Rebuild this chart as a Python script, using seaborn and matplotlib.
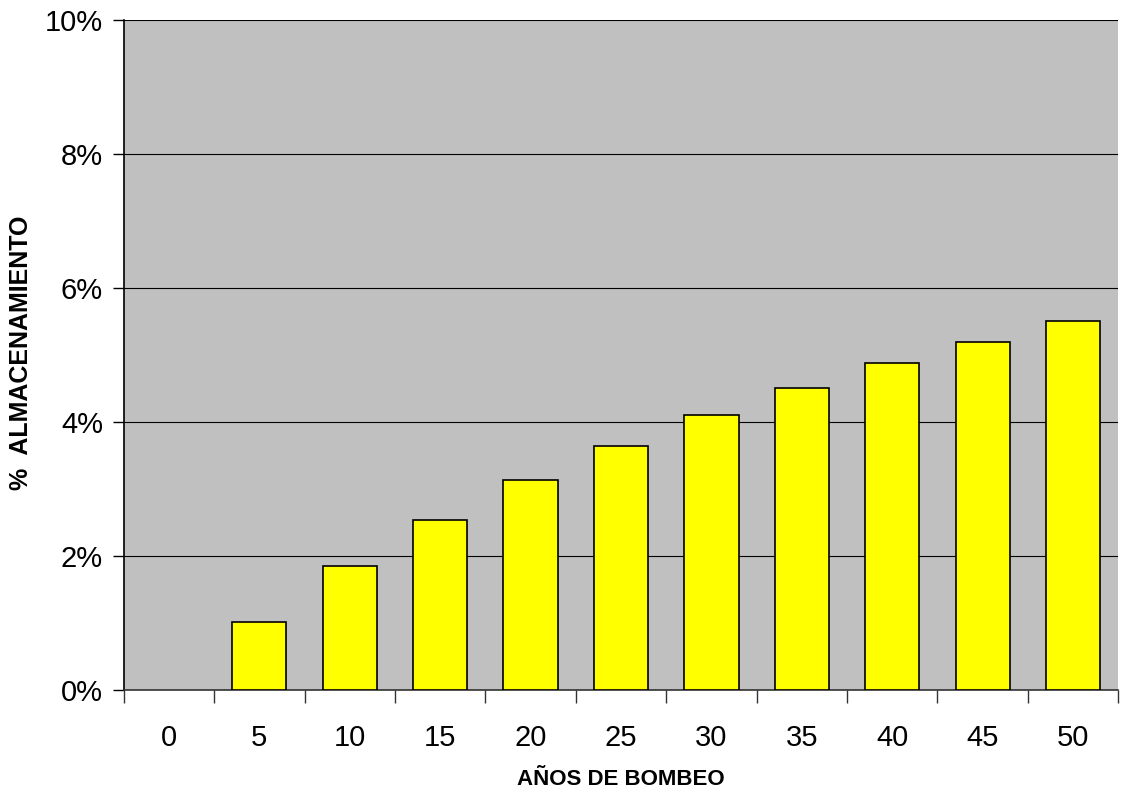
import matplotlib
matplotlib.use("Agg")
import matplotlib.pyplot as plt
import seaborn as sns
import pandas as pd
import numpy as np
from matplotlib.ticker import FixedLocator, FuncFormatter

# Years of pumping and the resulting storage percentage
years = ["0", "5", "10", "15", "20", "25", "30", "35", "40", "45", "50"]
storage_pct = [0.0, 1.01, 1.84, 2.54, 3.13, 3.64, 4.10, 4.51, 4.87, 5.19, 5.51]

df = pd.DataFrame({"years": years, "pct": storage_pct})

sns.set_theme(style="white")
plt.rcParams["font.family"] = ["Liberation Sans", "DejaVu Sans"]

fig = plt.figure(figsize=(11.25, 7.91), dpi=100)
ax = fig.add_axes([0.110, 0.128, 0.884, 0.847])
ax.set_facecolor("#C0C0C0")

sns.barplot(data=df, x="years", y="pct", order=years, color="#FFFF00",
            edgecolor="black", linewidth=1.2, width=0.6, saturation=1,
            ax=ax, zorder=3)

# zero-height bars leave no outline
for patch in ax.patches:
    if patch.get_height() == 0:
        patch.set_linewidth(0)

ax.set_ylim(0, 10)
ax.set_xlim(-0.5, len(years) - 0.5)
ax.set_yticks(np.arange(0, 11, 2))
ax.yaxis.set_major_formatter(FuncFormatter(lambda v, p: f"{v:.0f}%"))
ax.yaxis.grid(True, color="black", linewidth=0.8, zorder=1)
ax.set_axisbelow(True)

# tick marks between categories, labels centred under each bar
ax.xaxis.set_minor_locator(FixedLocator(np.arange(-0.5, len(years), 1.0)))
ax.tick_params(axis="x", which="major", length=0, pad=25, labelsize=21, colors="black")
ax.tick_params(axis="x", which="minor", length=9, width=1, color="#333333", direction="out", bottom=True)
ax.tick_params(axis="y", which="major", length=8, width=1, color="black", direction="out",
               left=True, pad=7, labelsize=21, labelcolor="black")

for side in ["top", "right"]:
    ax.spines[side].set_visible(False)
ax.spines["left"].set_color("black")
ax.spines["left"].set_linewidth(1.2)
ax.spines["bottom"].set_color("#333333")
ax.spines["bottom"].set_linewidth(1.2)

ax.set_xlabel("AÑOS DE BOMBEO", fontsize=16, fontweight="bold", labelpad=12, color="black")
ax.set_ylabel("%  ALMACENAMIENTO", fontsize=18, fontweight="bold", color="black")
ax.yaxis.set_label_coords(-0.091, 0.503)

fig.savefig("out.png", dpi=100, facecolor="white")
